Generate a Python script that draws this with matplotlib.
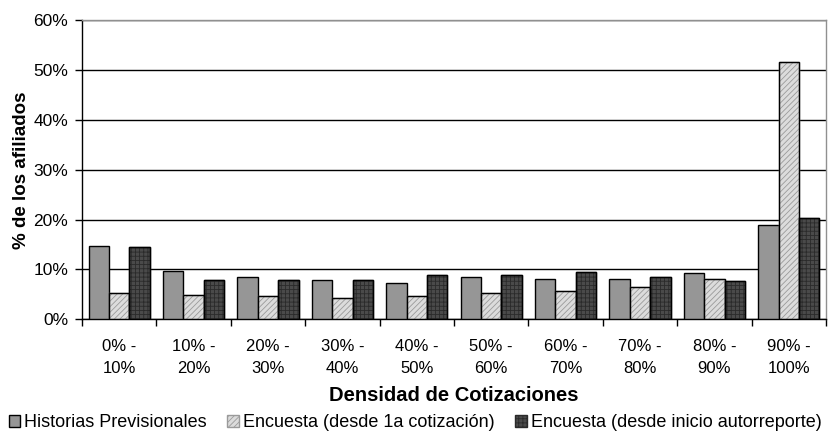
import matplotlib
matplotlib.use("Agg")
import matplotlib.pyplot as plt
import numpy as np
from matplotlib.ticker import FuncFormatter, FixedLocator

plt.rcParams['font.family'] = ['Liberation Sans', 'DejaVu Sans']
plt.rcParams['hatch.linewidth'] = 0.6

categories = ["0% -\n10%", "10% -\n20%", "20% -\n30%", "30% -\n40%", "40% -\n50%",
              "50% -\n60%", "60% -\n70%", "70% -\n80%", "80% -\n90%", "90% -\n100%"]
historias = [14.7, 9.7, 8.4, 7.8, 7.2, 8.4, 8.1, 8.0, 9.2, 18.9]
encuesta_1a = [5.3, 4.8, 4.7, 4.3, 4.7, 5.2, 5.7, 6.4, 8.0, 51.6]
encuesta_auto = [14.5, 7.9, 7.9, 7.9, 8.8, 8.8, 9.5, 8.4, 7.6, 20.3]
series_names = ["Historias Previsionales", "Encuesta (desde 1a cotización)",
                "Encuesta (desde inicio autorreporte)"]

fig = plt.figure(figsize=(8.3, 4.33), dpi=100)
ax = fig.add_axes([82/830, 1-319.3/433, (826-82)/830, (319.3-20.3)/433])

x = np.arange(len(categories))
w = 0.275
b1 = ax.bar(x - w, historias, w, color='#969696', edgecolor='black', linewidth=1.0,
            label=series_names[0], zorder=3)
b2 = ax.bar(x, encuesta_1a, w, color='#dcdcdc', edgecolor='#9a9a9a', linewidth=1.0,
            hatch='//////', label=series_names[1], zorder=3)
b3 = ax.bar(x + w, encuesta_auto, w, color='#4a4a4a', edgecolor='#2a2a2a', linewidth=1.0,
            hatch='++++', label=series_names[2], zorder=3)
for r in list(b2) + list(b3):
    ax.add_patch(plt.Rectangle(r.get_xy(), r.get_width(), r.get_height(), fill=False,
                               edgecolor='black', linewidth=1.0, zorder=4))

ax.set_xlim(-0.5, len(categories) - 0.5)
ax.set_ylim(0, 60)
ax.set_yticks(np.arange(0, 61, 10))
ax.yaxis.set_major_formatter(FuncFormatter(lambda v, p: f"{int(v)}%"))
ax.yaxis.grid(True, color='black', linewidth=1.0, zorder=0)
ax.set_axisbelow(True)

ax.set_xticks(x)
ax.set_xticklabels(categories, fontsize=12, linespacing=1.6)
ax.tick_params(axis='x', length=0, pad=14)
ax.xaxis.set_minor_locator(FixedLocator(np.arange(-0.5, len(categories), 1.0)))
ax.tick_params(axis='x', which='minor', length=5, width=1, color='black', direction='out')
ax.tick_params(axis='y', length=5, width=1, labelsize=12.5, direction='out', pad=5)

for s in ['left', 'bottom']:
    ax.spines[s].set_color('black')
    ax.spines[s].set_linewidth(1.0)
for s in ['top', 'right']:
    ax.spines[s].set_color('#909090')
    ax.spines[s].set_linewidth(1.0)

ax.set_ylabel("% de los afiliados", fontsize=13.5, fontweight='bold', labelpad=2)
ax.set_xlabel("Densidad de Cotizaciones", fontsize=14.5, fontweight='bold', labelpad=7)

fig.legend(handles=[b1, b2, b3], labels=series_names, loc='lower center',
           bbox_to_anchor=(0.5, -0.033), ncol=3, frameon=False, fontsize=13,
           handlelength=0.65, handleheight=0.65, handletextpad=0.2, columnspacing=1.15)

fig.savefig("out.png", dpi=100)
